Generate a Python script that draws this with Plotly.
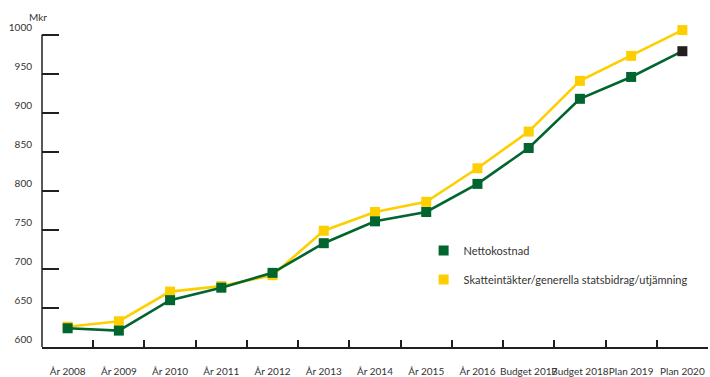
import plotly.graph_objects as go

categories = ["År 2008", "År 2009", "År 2010", "År 2011", "År 2012", "År 2013", "År 2014",
              "År 2015", "År 2016", "Budget 2017", "Budget 2018", "Plan 2019", "Plan 2020"]
nettokostnad = [624, 621, 660, 676, 695, 733, 761, 773, 809, 855, 918, 946, 979]
skatteintakter = [626, 633, 671, 678, 692, 749, 773, 786, 829, 876, 941, 973, 1006]
y_ticks = [600, 650, 700, 750, 800, 850, 900, 950, 1000]

GREEN = "#00652e"
YELLOW = "#fecf00"
BLACK = "#231f20"
AXIS = "#231f20"
FONT = "Lato"

fig = go.Figure()
fig.add_trace(go.Scatter(
    x=categories, y=skatteintakter, mode="lines+markers",
    line=dict(color=YELLOW, width=2.6),
    marker=dict(symbol="square", size=10, color=YELLOW),
    showlegend=False, cliponaxis=False))
green_colors = [GREEN] * (len(categories) - 1) + [BLACK]
fig.add_trace(go.Scatter(
    x=categories, y=nettokostnad, mode="lines+markers",
    line=dict(color=GREEN, width=2.6),
    marker=dict(symbol="square", size=10, color=green_colors),
    showlegend=False, cliponaxis=False))
# legend-only entries (square symbols)
fig.add_trace(go.Scatter(x=[None], y=[None], mode="markers", name="Nettokostnad",
                         marker=dict(symbol="square", size=10, color=GREEN),
                         legendgroup="a"))
fig.add_trace(go.Scatter(x=[None], y=[None], mode="markers",
                         name="Skatteintäkter/generella statsbidrag/utjämning",
                         marker=dict(symbol="square", size=10, color=YELLOW),
                         legendgroup="b"))

fig.update_layout(
    width=710, height=377,
    margin=dict(l=42, r=2, t=27, b=30, autoexpand=False),
    plot_bgcolor="white", paper_bgcolor="white",
    font=dict(family=FONT, size=10, color="#333333"),
    legend=dict(x=0.573, y=0.347, xanchor="left", yanchor="top",
                font=dict(size=11, color="#333333"), tracegroupgap=10,
                bgcolor="rgba(0,0,0,0)"),
    xaxis=dict(
        type="category", categoryorder="array", categoryarray=categories,
        range=[-0.5, len(categories) - 0.5], autorange=False,
        showline=True, linecolor=AXIS, linewidth=1.5,
        ticks="inside", ticklen=7, tickcolor=AXIS, tickwidth=1.5,
        tickson="boundaries", showgrid=False, zeroline=False, tickangle=0,
        automargin=False,
        ticklabelstandoff=14, tickfont=dict(size=10, color="#333333")),
    yaxis=dict(
        range=[600, 1010], autorange=False, tickvals=y_ticks,
        showline=False,
        ticks="inside", ticklen=17, tickcolor=AXIS, tickwidth=1.5,
        ticklabelposition="outside top", ticklabelstandoff=9,
        showgrid=False, zeroline=False, automargin=False,
        tickfont=dict(size=10, color="#333333")),
    shapes=[dict(type="line", xref="paper", yref="y", x0=0, x1=0,
                 y0=600, y1=1000, line=dict(color=AXIS, width=1.5))],
    annotations=[dict(text="Mkr", xref="paper", yref="paper", x=-0.006, y=1.031,
                      xanchor="center", yanchor="middle", showarrow=False,
                      font=dict(size=10, color="#333333"))],
)

fig.write_html("out.html")
